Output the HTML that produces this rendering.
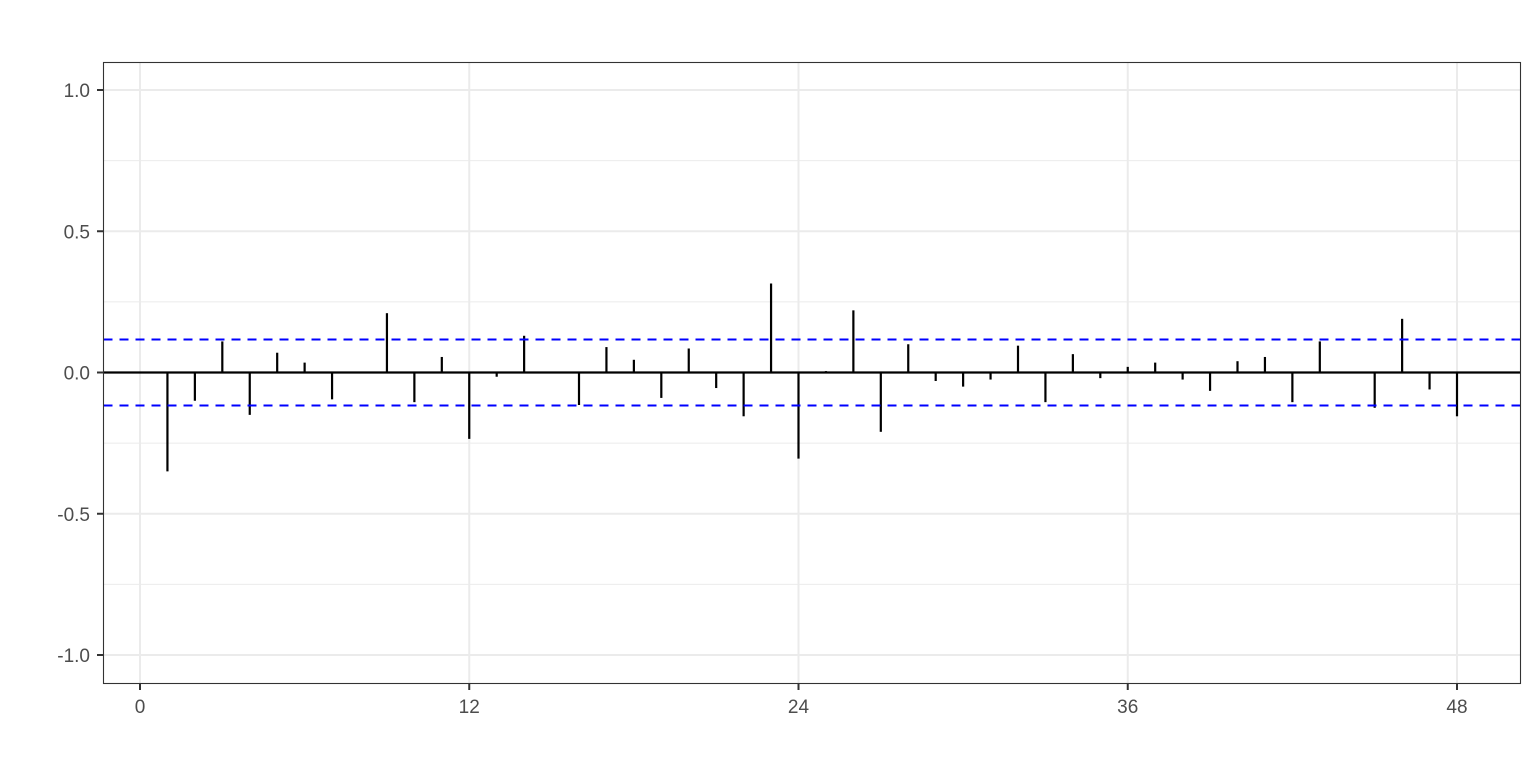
<!DOCTYPE html>
<html><head><meta charset="utf-8"><style>
body{margin:0;background:#fff;}
svg text{font-family:"Liberation Sans",Arial,sans-serif;font-size:19px;fill:#4d4d4d;}
</style></head><body>
<svg id="chart" width="1536" height="768" xmlns="http://www.w3.org/2000/svg">
<rect width="1536" height="768" fill="#fff"/>
<g id="grid"></g>
<g id="marks"></g>
<rect x="103.5" y="62.5" width="1417" height="621" fill="none" stroke="#333" stroke-width="1.1"/>
<g id="axes"></g>
</svg>
<script>
const lags=[1,2,3,4,5,6,7,8,9,10,11,12,13,14,15,16,17,18,19,20,21,22,23,24,25,26,27,28,29,30,31,32,33,34,35,36,37,38,39,40,41,42,43,44,45,46,47,48];
const acfValues=[-0.35,-0.10,0.11,-0.15,0.07,0.035,-0.095,0.003,0.21,-0.105,0.055,-0.235,-0.015,0.13,0.002,-0.115,0.09,0.045,-0.09,0.085,-0.055,-0.155,0.315,-0.305,0.005,0.22,-0.21,0.10,-0.03,-0.05,-0.025,0.095,-0.105,0.065,-0.02,0.02,0.035,-0.025,-0.065,0.04,0.055,-0.105,0.11,0.003,-0.125,0.19,-0.06,-0.155];
const ciBound=[0.117];
const xTicks=[0,12,24,36,48];
const yTicks=[-1.0,-0.5,0.0,0.5,1.0];
const yMinor=[-0.75,-0.25,0.25,0.75];
const NS="http://www.w3.org/2000/svg";
const X=v=>140+v*(1457-140)/48;
const Y=v=>372.5-v*282.5;
const L=103.5,R=1520.5,T=62.5,B=683.5;
function mk(tag,attrs,parent){const e=document.createElementNS(NS,tag);for(const k in attrs)e.setAttribute(k,attrs[k]);document.getElementById(parent).appendChild(e);return e;}
yMinor.forEach(v=>{const e=mk('line',{x1:L,x2:R,y1:Y(v),y2:Y(v),stroke:'#ebebeb','stroke-width':1},'grid');

});
yTicks.forEach(v=>{const e=mk('line',{x1:L,x2:R,y1:Y(v),y2:Y(v),stroke:'#ebebeb','stroke-width':2},'grid');


const t=mk('line',{x1:97,x2:103,y1:Y(v),y2:Y(v),stroke:'#333','stroke-width':2},'axes');


const l=mk('text',{x:90,y:Y(v)+7,'text-anchor':'end'},'axes');l.textContent=v.toFixed(1);

});
xTicks.forEach(v=>{const e=mk('line',{x1:X(v),x2:X(v),y1:T,y2:B,stroke:'#ebebeb','stroke-width':2},'grid');


const t=mk('line',{x1:X(v),x2:X(v),y1:684,y2:690,stroke:'#333','stroke-width':2},'axes');


const l=mk('text',{x:X(v),y:713,'text-anchor':'middle'},'axes');l.textContent=v;

});
const z=mk('line',{x1:L,x2:R,y1:Y(0),y2:Y(0),stroke:'#000','stroke-width':2.2},'marks');


lags.forEach((k,i)=>{const e=mk('line',{x1:X(k),x2:X(k),y1:Y(0),y2:Y(acfValues[i]),stroke:'#000','stroke-width':2.2},'marks');

});
[ciBound[0],-ciBound[0]].forEach(v=>{const e=mk('line',{x1:L,x2:R,y1:Y(v),y2:Y(v),stroke:'#0000ff','stroke-width':2,'stroke-dasharray':'9 7'},'marks');

});
</script>
</body></html>
